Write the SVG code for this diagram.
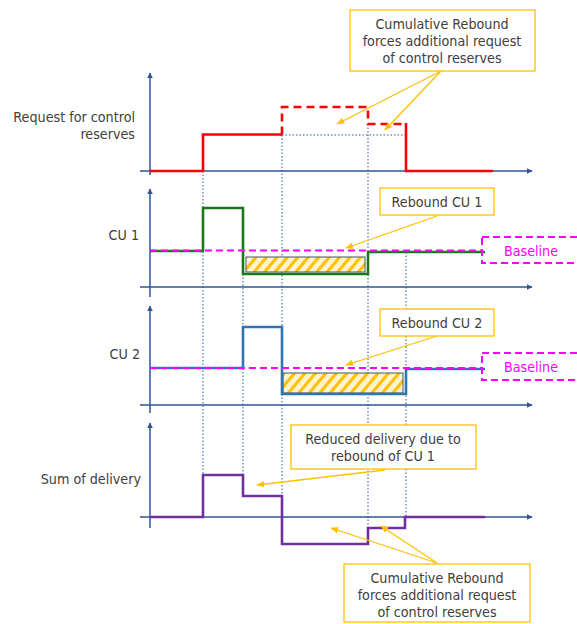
<svg xmlns="http://www.w3.org/2000/svg" width="577" height="624" viewBox="0 0 577 624">
  <style>
    text { font-family: "DejaVu Sans Condensed", "Liberation Sans", sans-serif; font-size: 14.2px; fill: #404040; }
    .lbl { text-anchor: end; }
    .note { text-anchor: middle; }
    .axis { stroke: #2F5597; stroke-width: 1.5; fill: none; }
    .guide { stroke: #2F5597; stroke-width: 1; stroke-dasharray: 1.5 2; fill: none; }
    .box { fill: #fff; stroke: #FFC000; stroke-width: 1.3; }
    .call { stroke: #FFC000; stroke-width: 1.3; fill: none; marker-end: url(#ah); }
    .sig { fill: none; stroke-width: 2.6; stroke-linejoin: miter; }
    .base { fill: none; stroke: #FF00FF; stroke-width: 2; stroke-dasharray: 7 4; }
    .basetxt { fill: #FF00FF; text-anchor: middle; }
    .rebound { fill: url(#hatch); stroke: #44546A; stroke-width: 1; }
  </style>
  <defs>
    <marker id="axh" viewBox="0 0 10 10" refX="9" refY="5" markerWidth="6" markerHeight="6" orient="auto" markerUnits="userSpaceOnUse">
      <path d="M0,0 L10,5 L0,10 z" fill="#2F5597"/>
    </marker>
    <marker id="ah" viewBox="0 0 10 10" refX="9" refY="5" markerWidth="8" markerHeight="8" orient="auto" markerUnits="userSpaceOnUse">
      <path d="M0,1 L10,5 L0,9 z" fill="#FFC000"/>
    </marker>
    <pattern id="hatch" width="8" height="8" patternUnits="userSpaceOnUse" patternTransform="rotate(40)">
      <rect width="8" height="8" fill="#FFF2CC"/>
      <rect width="3" height="8" fill="#FFC000"/>
    </pattern>
  </defs>

  <!-- axes -->
  <g id="axes">
    <line class="axis" x1="150" y1="175" x2="150" y2="73" marker-end="url(#axh)"/>
    <line class="axis" x1="140" y1="171" x2="532" y2="171" marker-end="url(#axh)"/>
    <line class="axis" x1="150" y1="297" x2="150" y2="189" marker-end="url(#axh)"/>
    <line class="axis" x1="140" y1="287" x2="532" y2="287" marker-end="url(#axh)"/>
    <line class="axis" x1="150" y1="413" x2="150" y2="306" marker-end="url(#axh)"/>
    <line class="axis" x1="140" y1="405" x2="532" y2="405" marker-end="url(#axh)"/>
    <line class="axis" x1="150" y1="528" x2="150" y2="423" marker-end="url(#axh)"/>
    <line class="axis" x1="140" y1="517" x2="532" y2="517" marker-end="url(#axh)"/>
  </g>

  <!-- time guides -->
  <g id="guides">
    <line class="guide" x1="203" y1="171" x2="203" y2="475"/>
    <line class="guide" x1="243" y1="274" x2="243" y2="475"/>
    <line class="guide" x1="282" y1="135" x2="282" y2="496"/>
    <line class="guide" x1="368" y1="124" x2="368" y2="528"/>
    <line class="guide" x1="406" y1="252" x2="406" y2="517"/>
    <line class="guide" x1="282" y1="135" x2="406" y2="135"/>
  </g>

  <!-- axis labels -->
  <g id="labels">
    <text class="lbl" x="135" y="122">Request for control</text>
    <text class="lbl" x="135" y="139">reserves</text>
    <text class="lbl" x="139" y="240">CU 1</text>
    <text class="lbl" x="140" y="359">CU 2</text>
    <text class="lbl" x="141" y="484">Sum of delivery</text>
  </g>

  <!-- request for control reserves -->
  <g id="request">
    <polyline class="sig" stroke="#FF0000" points="150,171 203,171 203,134.5 282,134.5"/>
    <polyline class="sig" stroke="#FF0000" stroke-dasharray="8 5" points="282,134.5 282,107 368,107 368,124 406,124"/>
    <polyline class="sig" stroke="#FF0000" points="406,123 406,171 493,171"/>
  </g>

  <!-- CU 1 -->
  <g id="cu1">
    <rect class="rebound" x="246" y="257" width="119" height="15"/>
    <polyline class="sig" stroke="#1A7A1A" points="150,251 203,251 203,208 243,208 243,274 368,274 368,252 485,252"/>
    <line class="base" x1="150" y1="250.5" x2="482" y2="250.5"/>
    <rect class="base" x="482" y="237" width="110" height="26"/>
    <text class="basetxt" x="531" y="256">Baseline</text>
  </g>

  <!-- CU 2 -->
  <g id="cu2">
    <rect class="rebound" x="283" y="373" width="120" height="20"/>
    <polyline class="sig" stroke="#2E75B6" points="150,368 243,368 243,327 282,327 282,394 406,394 406,369 485,369"/>
    <line class="base" x1="150" y1="368" x2="482" y2="368"/>
    <rect class="base" x="482" y="353" width="110" height="27"/>
    <text class="basetxt" x="531" y="372">Baseline</text>
  </g>

  <!-- sum of delivery -->
  <g id="sum">
    <polyline class="sig" stroke="#7030A0" points="150,517 203,517 203,475 243,475 243,496 282,496 282,544 368,544 368,528 405,528 405,517 485,517"/>
  </g>

  <!-- callout connectors -->
  <g id="connectors">
    <line class="call" x1="441" y1="71" x2="337" y2="124"/>
    <line class="call" x1="441" y1="71" x2="385" y2="130"/>
    <line class="call" x1="437" y1="216" x2="346" y2="248"/>
    <line class="call" x1="437" y1="336" x2="346" y2="365"/>
    <line class="call" x1="385" y1="470" x2="257" y2="485"/>
    <line class="call" x1="437" y1="563" x2="331" y2="528"/>
    <line class="call" x1="437" y1="563" x2="381" y2="526"/>
  </g>

  <!-- callouts -->
  <g id="note-top">
    <rect class="box" x="350" y="10" width="185" height="61"/>
    <text class="note" x="442" y="29">Cumulative Rebound</text>
    <text class="note" x="442" y="46">forces additional request</text>
    <text class="note" x="442" y="63">of control reserves</text>
  </g>
  <g id="note-cu1">
    <rect class="box" x="380" y="188" width="114" height="27"/>
    <text class="note" x="437" y="207">Rebound CU 1</text>
  </g>
  <g id="note-cu2">
    <rect class="box" x="380" y="309" width="114" height="27"/>
    <text class="note" x="437" y="328">Rebound CU 2</text>
  </g>
  <g id="note-reduced">
    <rect class="box" x="291" y="425" width="185" height="44"/>
    <text class="note" x="383" y="444">Reduced delivery due to</text>
    <text class="note" x="383" y="461">rebound of CU 1</text>
  </g>
  <g id="note-bottom">
    <rect class="box" x="344" y="564" width="186" height="58"/>
    <text class="note" x="437" y="583">Cumulative Rebound</text>
    <text class="note" x="437" y="600">forces additional request</text>
    <text class="note" x="437" y="617">of control reserves</text>
  </g>
</svg>
